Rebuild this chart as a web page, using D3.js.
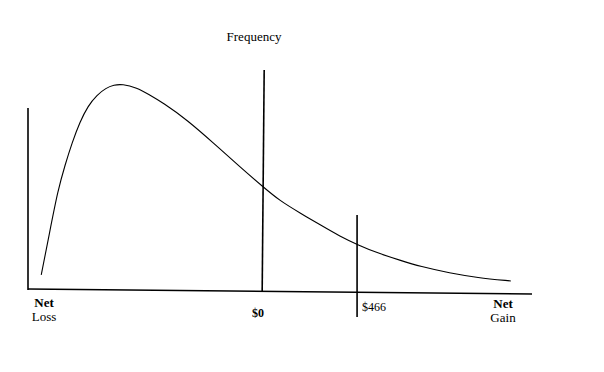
<!DOCTYPE html>
<html>
<head>
<meta charset="utf-8">
<script src="https://cdnjs.cloudflare.com/ajax/libs/d3/7.8.5/d3.min.js"></script>
<style>
  body { margin: 0; background: #fff; }
  svg { display: block; }
  text { font-family: "Liberation Serif", "DejaVu Serif", serif; fill: #000; }
</style>
</head>
<body>
<svg id="chart" viewBox="0 0 604 372" width="604" height="372"></svg>
<script>
// net result in dollars (x) and relative frequency (y)
const netDollars = [-1085, -1044, -1003, -968, -934, -895, -856, -811, -767, -728, -688, -614, -560, -486, -368, -240, -108, 5, 88, 186, 285, 383, 472, 565, 678, 776, 922, 1055, 1221];
const frequency = [0.073, 0.279, 0.485, 0.607, 0.714, 0.816, 0.893, 0.947, 0.981, 0.995, 1.0, 0.981, 0.951, 0.908, 0.825, 0.714, 0.597, 0.500, 0.432, 0.374, 0.316, 0.260, 0.218, 0.180, 0.144, 0.114, 0.082, 0.060, 0.044];

// reference lines: position and how far up / down they reach
const markerX = [-1150, 0, 466];
const markerTop = [0.883, 1.068, 0.364];
const markerBottom = [0, 0, -0.131];
const markerLabels = ["", "$0", "$466"];

const endLabels = [["Net", "Loss"], ["Net", "Gain"]];
const yTitle = "Frequency";

const svg = d3.select("#chart");

const x = d3.scaleLinear()
    .domain([-1150, 1325])
    .range([28, 532]);

const y = d3.scaleLinear()
    .domain([0, 1])
    .range([290, 84]);

const pts = netDollars.map((d, i) => [d, frequency[i]]);

// baseline (the scan is a little tilted)
svg.append("line")
    .attr("x1", x(-1150)).attr("y1", y(0) - 1)
    .attr("x2", x(1325)).attr("y2", y(0) + 4)
    .attr("stroke", "#000")
    .attr("stroke-width", 1.6);

svg.selectAll(".marker")
    .data(markerX)
    .enter()
    .append("line")
    .attr("class", "marker")
    .attr("x1", d => x(d))
    .attr("x2", (d, i) => x(d) + (i === 1 ? 2 : 0))
    .attr("y1", (d, i) => y(markerBottom[i]) + (i === 1 ? 1 : 0))
    .attr("y2", (d, i) => y(markerTop[i]))
    .attr("stroke", "#000")
    .attr("stroke-width", 1.6);

svg.append("path")
    .datum(pts)
    .attr("fill", "none")
    .attr("stroke", "#000")
    .attr("stroke-width", 1.1)
    .attr("d", d3.line()
        .x(d => x(d[0]))
        .y(d => y(d[1]))
        .curve(d3.curveBasis));

svg.append("text")
    .attr("x", 254)
    .attr("y", 41)
    .attr("text-anchor", "middle")
    .style("font-size", "13px")
    .text(yTitle);

// $0 and $466 labels
svg.append("text")
    .attr("x", 258).attr("y", 317)
    .attr("text-anchor", "middle")
    .style("font-size", "12px")
    .style("font-weight", "bold")
    .text(markerLabels[1]);
svg.append("text")
    .attr("x", 362).attr("y", 311)
    .style("font-size", "12px")
    .text(markerLabels[2]);

const endX = [44, 503];
const endY = [307, 308];
endLabels.forEach((lines, j) => {
    lines.forEach((t, k) => {
        svg.append("text")
            .attr("x", endX[j])
            .attr("y", endY[j] + k * 14)
            .attr("text-anchor", "middle")
            .style("font-size", "13px")
            .style("font-weight", k === 0 ? "bold" : "normal")
            .text(t);
    });
});
</script>
</body>
</html>
